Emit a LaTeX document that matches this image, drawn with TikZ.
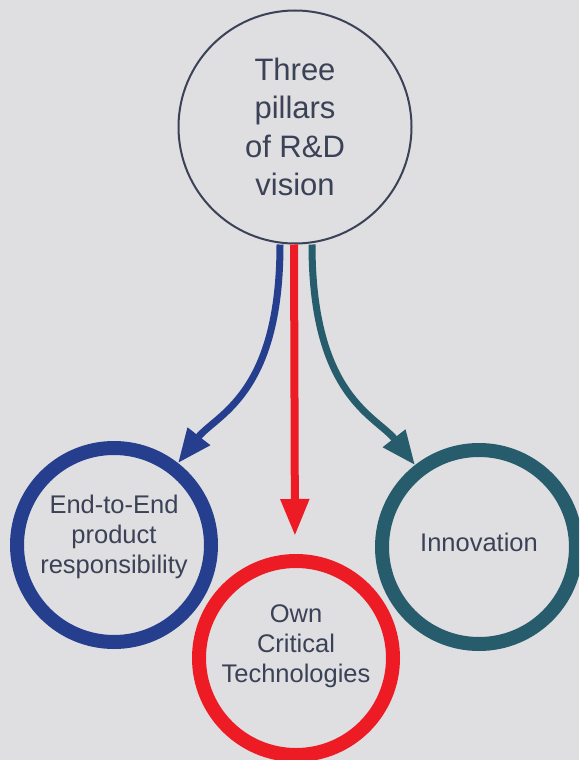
\documentclass[tikz,border=0pt]{standalone}
\usepackage{fontspec}
\setmainfont{Liberation Sans}
\usetikzlibrary{arrows.meta}

\definecolor{bg}{HTML}{DFDFE1}
\definecolor{ink}{HTML}{3B4257}
\definecolor{pillarblue}{HTML}{253F8E}
\definecolor{pillarred}{HTML}{ED1C24}
\definecolor{pillarteal}{HTML}{265C6C}

\begin{document}
\begin{tikzpicture}[x=1pt, y=-1pt,
    pull/.style={-{Triangle[width=27pt, length=34pt]}, line width=7pt},
    hub/.style={circle, draw=ink, line width=2pt, minimum size=233pt, align=center, text=ink, font=\fontsize{31}{38.5}\selectfont},
    pillar/.style={circle, line width=14pt, minimum size=194pt},
    caption/.style={align=center, text=ink, font=\fontsize{25.5}{30}\selectfont}]
    \useasboundingbox (0,0) rectangle (579,760);
    \clip (0,0) rectangle (579,760);
    \fill[bg] (0,0) rectangle (579,760);

    \node[hub] (Vision) at (295,127) {Three\\pillars\\of R\&D\\vision};
    \node[pillar, draw=pillarblue, label={[caption, yshift=8pt]center:End-to-End\\product\\responsibility}] (EndToEnd) at (114,545) {};
    \node[pillar, draw=pillarred, label={[caption, yshift=12pt]center:Own\\Critical\\Technologies}] (Own) at (296,658) {};
    \node[pillar, draw=pillarteal, label={[caption, yshift=5pt]center:Innovation}] (Innovation) at (479,547) {};

    \path[pull]
    ([xshift=-15pt]Vision.south) edge [draw=pillarblue, out=-90, in=52, out looseness=1.6, in looseness=0.65] (EndToEnd)
    ([xshift=-1pt]Vision.south)  edge [draw=pillarred, line width=8pt, shorten >=18pt, -{Triangle[width=27pt, length=37pt]}] ([xshift=-1pt]Own.north)
    ([xshift=17pt]Vision.south)  edge [draw=pillarteal, out=-90, in=128, out looseness=1.6, in looseness=0.65] (Innovation);
\end{tikzpicture}
\end{document}
